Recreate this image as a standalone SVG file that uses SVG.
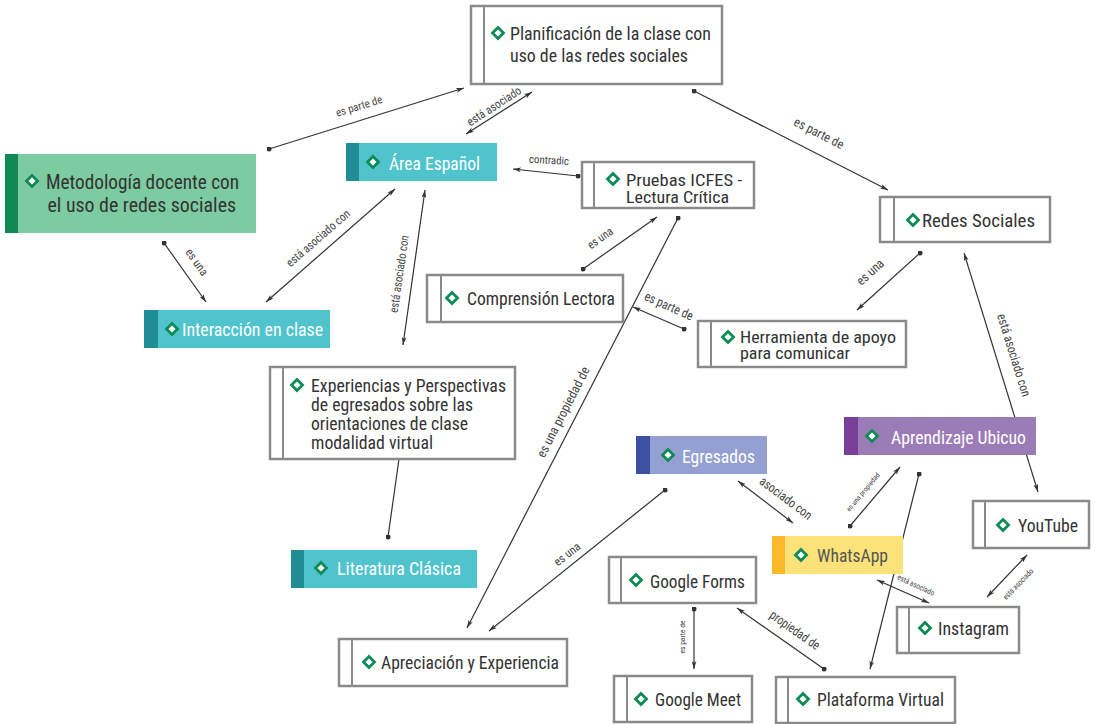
<svg xmlns="http://www.w3.org/2000/svg" xmlns:xlink="http://www.w3.org/1999/xlink" width="1096" height="724" viewBox="0 0 1096 724">
<style>
.box{fill:#fff;stroke:#8a8a8a;stroke-width:2.5}
.bar{stroke:#8a8a8a;stroke-width:2}
.t{font-family:"Liberation Sans Narrow","Roboto Condensed","DejaVu Sans Condensed","Liberation Sans",sans-serif;fill:#333}
.w{fill:#fff}
.c{fill:none;stroke:#333;stroke-width:1.2}
.cs{marker-start:url(#dot);marker-end:url(#ah)}
.cb{marker-start:url(#ah);marker-end:url(#ah)}
.lb{font-family:"Liberation Sans Narrow","Roboto Condensed","DejaVu Sans Condensed","Liberation Sans",sans-serif;fill:#444;text-anchor:middle}
</style>
<defs>
<marker id="ah" viewBox="0 0 10 6" refX="10" refY="3" markerWidth="8" markerHeight="5" markerUnits="userSpaceOnUse" orient="auto-start-reverse"><path d="M0,0 L10,3 L0,6 L2.5,3 Z" fill="#333"/></marker>
<marker id="dot" viewBox="0 0 6 6" refX="3" refY="3" markerWidth="5" markerHeight="5" markerUnits="userSpaceOnUse"><circle cx="3" cy="3" r="3" fill="#333"/></marker>
<path id="dia" d="M0,-5.5 L5.5,0 L0,5.5 L-5.5,0 Z" fill="#fff" stroke="#0e8a56" stroke-width="2.8"/>
</defs>
<rect width="1096" height="724" fill="#fff"/>

<g id="connectors">
<path class="c cs" d="M269,149 L464,88"/>
<text class="lb" font-size="11" textLength="48" lengthAdjust="spacingAndGlyphs" transform="translate(359,106) rotate(-17.4)" dy="0.35em">es parte de</text>
<path class="c cb" d="M466,134 L532,92"/>
<text class="lb" font-size="12" textLength="62" lengthAdjust="spacingAndGlyphs" transform="translate(494,106) rotate(-33)" dy="0.35em">está asociado</text>
<path class="c cs" d="M694,91 L888,190"/>
<text class="lb" font-size="13" textLength="54" lengthAdjust="spacingAndGlyphs" transform="translate(819,133) rotate(27)" dy="0.35em">es parte de</text>
<path class="c cs" d="M578,176 L513,169"/>
<text class="lb" font-size="11" textLength="40" lengthAdjust="spacingAndGlyphs" transform="translate(549,160) rotate(3)" dy="0.35em">contradic</text>
<path class="c cs" d="M164,243 L206,302"/>
<text class="lb" font-size="12" textLength="30" lengthAdjust="spacingAndGlyphs" transform="translate(197,262) rotate(55)" dy="0.35em">es una</text>
<path class="c cb" d="M266,302 L395,189"/>
<text class="lb" font-size="12" textLength="80" lengthAdjust="spacingAndGlyphs" transform="translate(318,238) rotate(-41)" dy="0.35em">está asociado con</text>
<path class="c cb" d="M425,190 L403,345"/>
<text class="lb" font-size="12" textLength="78" lengthAdjust="spacingAndGlyphs" transform="translate(399,274) rotate(-81.6)" dy="0.35em">está asociado con</text>
<path class="c cs" d="M583,269 L657,217"/>
<text class="lb" font-size="12" textLength="28" lengthAdjust="spacingAndGlyphs" transform="translate(600,238) rotate(-35)" dy="0.35em">es una</text>
<path class="c cs" d="M678,218 L467,628"/>
<text class="lb" font-size="13" textLength="100" lengthAdjust="spacingAndGlyphs" transform="translate(563,412) rotate(-62.8)" dy="0.35em">es una propiedad de</text>
<path class="c cs" d="M684,329 L633,307"/>
<text class="lb" font-size="13" textLength="52" lengthAdjust="spacingAndGlyphs" transform="translate(669,306) rotate(24)" dy="0.35em">es parte de</text>
<path class="c cs" d="M920,253 L857,310"/>
<text class="lb" font-size="13" textLength="32" lengthAdjust="spacingAndGlyphs" transform="translate(870,272) rotate(-42)" dy="0.35em">es una</text>
<path class="c cb" d="M964,253 L1038,492"/>
<text class="lb" font-size="13" textLength="86" lengthAdjust="spacingAndGlyphs" transform="translate(1014,355) rotate(72.8)" dy="0.35em">está asociado con</text>
<path class="c cb" d="M738,481 L793,523"/>
<text class="lb" font-size="13" textLength="62" lengthAdjust="spacingAndGlyphs" transform="translate(786,498) rotate(37)" dy="0.35em">asociado con</text>
<path class="c cs" d="M850,526 L900,467"/>
<text class="lb" font-size="7" textLength="48" lengthAdjust="spacingAndGlyphs" transform="translate(863,492) rotate(-50)" dy="0.35em">es una propiedad</text>
<path class="c cs" d="M919,474 L870,669"/>
<path class="c cb" d="M877,580 L929,603"/>
<text class="lb" font-size="8" textLength="40" lengthAdjust="spacingAndGlyphs" transform="translate(916,585) rotate(25)" dy="0.35em">está asociado</text>
<path class="c cb" d="M987,597 L1027,555"/>
<text class="lb" font-size="8" textLength="40" lengthAdjust="spacingAndGlyphs" transform="translate(1018,584) rotate(-46)" dy="0.35em">está asociado</text>
<path class="c cs" d="M694,609 L694,669"/>
<text class="lb" font-size="7" textLength="33" lengthAdjust="spacingAndGlyphs" transform="translate(683,637) rotate(-90)" dy="0.35em">es parte de</text>
<path class="c cs" d="M824,669 L737,608"/>
<text class="lb" font-size="13" textLength="58" lengthAdjust="spacingAndGlyphs" transform="translate(795,630) rotate(35)" dy="0.35em">propiedad de</text>
<path class="c" marker-end="url(#dot)" d="M399,459 L388,537"/>
<path class="c cs" d="M665,490 L489,631"/>
<text class="lb" font-size="12" textLength="30" lengthAdjust="spacingAndGlyphs" transform="translate(567,554) rotate(-38)" dy="0.35em">es una</text>
</g>

<g id="n-planificacion">
<rect class="box" x="471" y="6" width="251" height="78"/>
<line class="bar" x1="484" y1="6" x2="484" y2="84"/>
<use xlink:href="#dia" x="498" y="33"/>
<text class="t" font-size="18" x="510" y="39.5" textLength="201" lengthAdjust="spacingAndGlyphs">Planificación de la clase con</text>
<text class="t" font-size="18" x="510" y="61.5" textLength="178" lengthAdjust="spacingAndGlyphs">uso de las redes sociales</text>
</g>

<g id="n-metodologia">
<rect x="5" y="154" width="251" height="79" fill="#7dcba0"/>
<rect x="5" y="154" width="13" height="79" fill="#0f8a55"/>
<use xlink:href="#dia" x="32" y="181"/>
<text class="t" font-size="21" x="46" y="189" textLength="193" lengthAdjust="spacingAndGlyphs">Metodología docente con</text>
<text class="t" font-size="21" x="47.5" y="211.5" textLength="188.5" lengthAdjust="spacingAndGlyphs">el uso de redes sociales</text>
</g>

<g id="n-area">
<rect x="346" y="143" width="151" height="38" fill="#4fc4cc"/>
<rect x="346" y="143" width="13" height="38" fill="#1f8d93"/>
<use xlink:href="#dia" x="373" y="162"/>
<text class="t w" font-size="19" x="389" y="169.5" textLength="91" lengthAdjust="spacingAndGlyphs">Área Español</text>
</g>

<g id="n-pruebas">
<rect class="box" x="582" y="162" width="172" height="46"/>
<line class="bar" x1="594" y1="162" x2="594" y2="208"/>
<use xlink:href="#dia" x="613" y="179"/>
<text class="t" font-size="17" x="626" y="185.5" textLength="116" lengthAdjust="spacingAndGlyphs">Pruebas ICFES -</text>
<text class="t" font-size="17" x="626" y="203" textLength="103" lengthAdjust="spacingAndGlyphs">Lectura Crítica</text>
</g>

<g id="n-redes">
<rect class="box" x="880" y="197" width="170" height="45"/>
<line class="bar" x1="894" y1="197" x2="894" y2="242"/>
<use xlink:href="#dia" x="913" y="220"/>
<text class="t" font-size="18" x="922" y="226.5" textLength="113" lengthAdjust="spacingAndGlyphs">Redes Sociales</text>
</g>

<g id="n-interaccion">
<rect x="144" y="310" width="186" height="38" fill="#4fc4cc"/>
<rect x="144" y="310" width="14" height="38" fill="#1f8d93"/>
<use xlink:href="#dia" x="172" y="329"/>
<text class="t w" font-size="19" x="182" y="335.5" textLength="141" lengthAdjust="spacingAndGlyphs">Interacción en clase</text>
</g>

<g id="n-comprension">
<rect class="box" x="427" y="275" width="196" height="47"/>
<line class="bar" x1="441" y1="275" x2="441" y2="322"/>
<use xlink:href="#dia" x="452" y="298"/>
<text class="t" font-size="18" x="467" y="304.5" textLength="148" lengthAdjust="spacingAndGlyphs">Comprensión Lectora</text>
</g>

<g id="n-herramienta">
<rect class="box" x="698" y="321" width="208" height="46"/>
<line class="bar" x1="711" y1="321" x2="711" y2="367"/>
<use xlink:href="#dia" x="728" y="337"/>
<text class="t" font-size="16" x="740" y="342.5" textLength="156" lengthAdjust="spacingAndGlyphs">Herramienta de apoyo</text>
<text class="t" font-size="16" x="740" y="359" textLength="110" lengthAdjust="spacingAndGlyphs">para comunicar</text>
</g>

<g id="n-experiencias">
<rect class="box" x="270" y="367" width="245" height="92"/>
<line class="bar" x1="283" y1="367" x2="283" y2="459"/>
<use xlink:href="#dia" x="297" y="385"/>
<text class="t" font-size="18" x="311" y="391.5" textLength="195" lengthAdjust="spacingAndGlyphs">Experiencias y Perspectivas</text>
<text class="t" font-size="18" x="311" y="410.5" textLength="162" lengthAdjust="spacingAndGlyphs">de egresados sobre las</text>
<text class="t" font-size="18" x="311" y="429.5" textLength="157" lengthAdjust="spacingAndGlyphs">orientaciones de clase</text>
<text class="t" font-size="18" x="311" y="448.5" textLength="122" lengthAdjust="spacingAndGlyphs">modalidad virtual</text>
</g>

<g id="n-literatura">
<rect x="291" y="550" width="186" height="38" fill="#4fc4cc"/>
<rect x="291" y="550" width="13" height="38" fill="#1f8d93"/>
<use xlink:href="#dia" x="321" y="568"/>
<text class="t w" font-size="19" x="337" y="574.5" textLength="124" lengthAdjust="spacingAndGlyphs">Literatura Clásica</text>
</g>

<g id="n-apreciacion">
<rect class="box" x="339" y="639" width="228" height="47"/>
<line class="bar" x1="352" y1="639" x2="352" y2="686"/>
<use xlink:href="#dia" x="369" y="662"/>
<text class="t" font-size="18" x="381" y="668.5" textLength="178" lengthAdjust="spacingAndGlyphs">Apreciación y Experiencia</text>
</g>

<g id="n-egresados">
<rect x="636" y="436" width="131" height="38" fill="#93a0d1"/>
<rect x="636" y="436" width="14" height="38" fill="#3e50a2"/>
<use xlink:href="#dia" x="668" y="455"/>
<text class="t w" font-size="19" x="682" y="462.5" textLength="73" lengthAdjust="spacingAndGlyphs">Egresados</text>
</g>

<g id="n-aprendizaje">
<rect x="844" y="417" width="192" height="38" fill="#9b7cb7"/>
<rect x="844" y="417" width="14" height="38" fill="#7a3f98"/>
<use xlink:href="#dia" x="872" y="436"/>
<text class="t w" font-size="19" x="891" y="443.5" textLength="135" lengthAdjust="spacingAndGlyphs">Aprendizaje Ubicuo</text>
</g>

<g id="n-whatsapp">
<rect x="772" y="536" width="131" height="38" fill="#fbe37a"/>
<rect x="772" y="536" width="13" height="38" fill="#fcb92a"/>
<use xlink:href="#dia" x="801" y="555"/>
<text class="t" font-size="19" style="fill:#555" x="817" y="561.5" textLength="71" lengthAdjust="spacingAndGlyphs">WhatsApp</text>
</g>

<g id="n-youtube">
<rect class="box" x="973" y="501" width="116" height="47"/>
<line class="bar" x1="985" y1="501" x2="985" y2="548"/>
<use xlink:href="#dia" x="1003" y="525"/>
<text class="t" font-size="18" x="1018" y="531.5" textLength="60" lengthAdjust="spacingAndGlyphs">YouTube</text>
</g>

<g id="n-forms">
<rect class="box" x="609" y="557" width="147" height="46"/>
<line class="bar" x1="621" y1="557" x2="621" y2="603"/>
<use xlink:href="#dia" x="636" y="580"/>
<text class="t" font-size="18" x="650" y="587.5" textLength="95" lengthAdjust="spacingAndGlyphs">Google Forms</text>
</g>

<g id="n-meet">
<rect class="box" x="614" y="676" width="138" height="46"/>
<line class="bar" x1="627" y1="676" x2="627" y2="722"/>
<use xlink:href="#dia" x="641" y="699"/>
<text class="t" font-size="18" x="655" y="705.5" textLength="86" lengthAdjust="spacingAndGlyphs">Google Meet</text>
</g>

<g id="n-instagram">
<rect class="box" x="897" y="607" width="122" height="46"/>
<line class="bar" x1="909" y1="607" x2="909" y2="653"/>
<use xlink:href="#dia" x="925" y="628"/>
<text class="t" font-size="18" x="938" y="634.5" textLength="71" lengthAdjust="spacingAndGlyphs">Instagram</text>
</g>

<g id="n-plataforma">
<rect class="box" x="776" y="677" width="179" height="46"/>
<line class="bar" x1="788" y1="677" x2="788" y2="723"/>
<use xlink:href="#dia" x="803" y="699"/>
<text class="t" font-size="18" x="817" y="705.5" textLength="127" lengthAdjust="spacingAndGlyphs">Plataforma Virtual</text>
</g>
</svg>
